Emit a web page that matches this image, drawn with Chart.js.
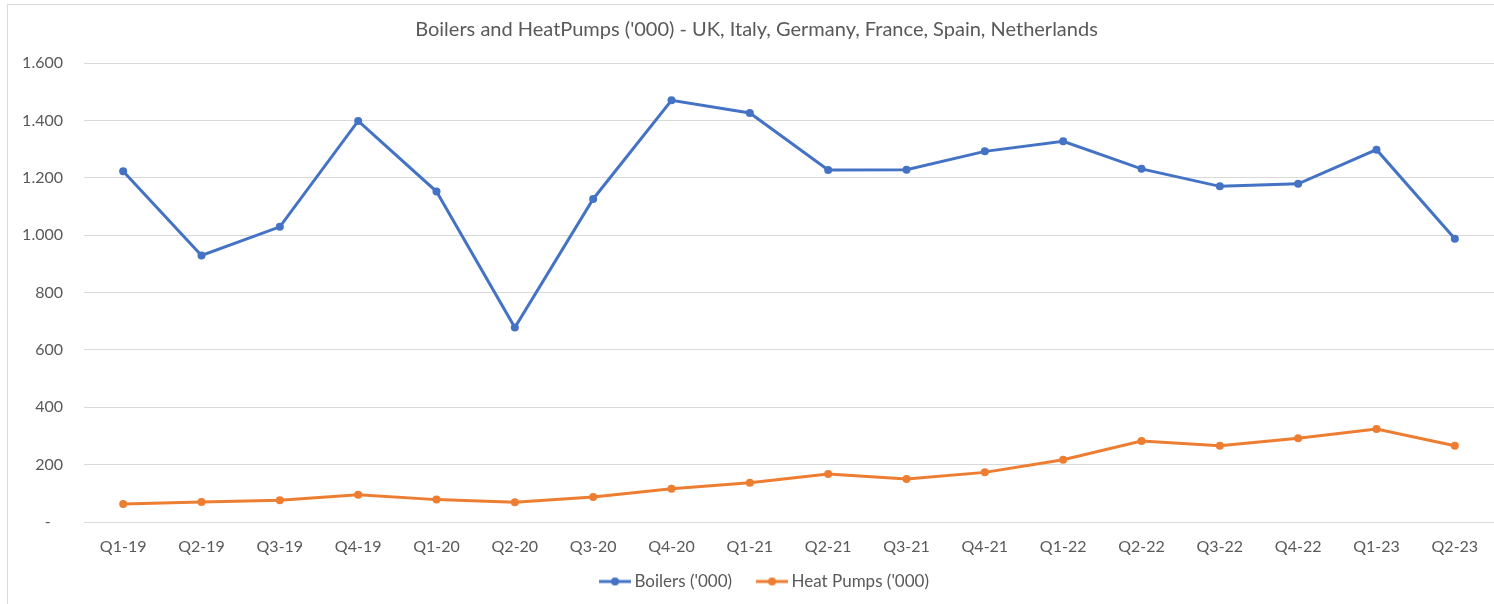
<!DOCTYPE html>
<html>
<head>
<meta charset="utf-8">
<script src="https://cdn.jsdelivr.net/npm/chart.js@4.4.0/dist/chart.umd.min.js"></script>
<style>
  html, body { margin: 0; padding: 0; background: #fff; overflow: hidden; }
  #wrap { position: relative; width: 1494px; height: 604px; overflow: hidden; }
  #c { display: block; }
</style>
</head>
<body>
<div id="wrap"><canvas id="c" width="1520" height="604" style="width:1520px;height:604px"></canvas></div>
<script>
// Data
const quarters = ['Q1-19', 'Q2-19', 'Q3-19', 'Q4-19', 'Q1-20', 'Q2-20', 'Q3-20', 'Q4-20', 'Q1-21',
  'Q2-21', 'Q3-21', 'Q4-21', 'Q1-22', 'Q2-22', 'Q3-22', 'Q4-22', 'Q1-23', 'Q2-23'];
const boilers = [1223, 929, 1029, 1398, 1152, 678, 1126, 1470, 1426,
  1227, 1228, 1292, 1327, 1231, 1170, 1179, 1298, 987];
const heatPumps = [63, 70, 76, 95, 78, 69, 87, 116, 137,
  167, 150, 173, 217, 282, 266, 292, 324, 266];
const yMin = 0, yMax = 1600, yStep = 200;

const FONT = 'Lato, "Open Sans", sans-serif';
const TEXT = '#595959';
const GRID = '#d9d9d9';
const BLUE = '#4472C4';
const ORANGE = '#ED7D31';

// legend marker: short line with a dot, drawn in the right part of a wider image
// so the gap before the next item is larger than the gap before its own text
function legendMarker(color) {
  const m = document.createElement('canvas');
  m.width = 52; m.height = 10;
  const g = m.getContext('2d');
  g.strokeStyle = color; g.lineWidth = 3;
  g.beginPath(); g.moveTo(20, 5); g.lineTo(52, 5); g.stroke();
  g.fillStyle = color;
  g.beginPath(); g.arc(36, 5, 4, 0, Math.PI * 2); g.fill();
  return m;
}
const markers = [legendMarker(BLUE), legendMarker(ORANGE)];

// white background and the light frame on the left/top
const frame = {
  id: 'frame',
  beforeDraw(chart) {
    const ctx = chart.ctx;
    ctx.save();
    ctx.fillStyle = '#fff';
    ctx.fillRect(0, 0, chart.width, chart.height);
    ctx.strokeStyle = GRID;
    ctx.lineWidth = 1;
    ctx.beginPath();
    ctx.moveTo(7.5, chart.height);
    ctx.lineTo(7.5, 4.5);
    ctx.lineTo(chart.width, 4.5);
    ctx.stroke();
    ctx.restore();
  }
};

function fmt(v) {
  if (v === 0) return '-   ';
  return String(v).replace(/\B(?=(\d{3})+(?!\d))/g, '.');
}

new Chart(document.getElementById('c'), {
  type: 'line',
  data: {
    labels: quarters,
    datasets: [
      {
        label: "Boilers ('000)",
        data: boilers,
        borderColor: BLUE,
        backgroundColor: BLUE,
        borderWidth: 3,
        pointRadius: 4,
        pointBorderWidth: 0,
        tension: 0
      },
      {
        label: "Heat Pumps ('000)",
        data: heatPumps,
        borderColor: ORANGE,
        backgroundColor: ORANGE,
        borderWidth: 3,
        pointRadius: 4,
        pointBorderWidth: 0,
        tension: 0
      }
    ]
  },
  options: {
    responsive: false,
    animation: false,
    devicePixelRatio: 1,
    layout: { padding: { left: 0, right: 7, top: 0, bottom: 4 } },
    plugins: {
      title: {
        display: true,
        text: "Boilers and HeatPumps ('000) - UK, Italy, Germany, France, Spain, Netherlands",
        color: TEXT,
        font: { family: FONT, size: 20, weight: 'normal' },
        padding: { top: 18, bottom: 21 }
      },
      legend: {
        position: 'bottom',
        labels: {
          color: TEXT,
          font: { family: FONT, size: 17 },
          usePointStyle: true,
          pointStyleWidth: 42,
          padding: 9,
          generateLabels(chart) {
            return chart.data.datasets.map((ds, i) => ({
              text: ds.label,
              fontColor: TEXT,
              pointStyle: markers[i],
              datasetIndex: i,
              hidden: false,
              lineWidth: 0
            }));
          }
        }
      },
      tooltip: { enabled: false }
    },
    scales: {
      x: {
        offset: true,
        grid: { display: false, drawTicks: false },
        border: { display: false },
        ticks: { color: TEXT, font: { family: FONT, size: 16 }, padding: 15, maxRotation: 0, autoSkip: false },
        afterFit(s) { s.height = 42; }
      },
      y: {
        min: yMin,
        max: yMax,
        grid: { color: GRID, lineWidth: 1, drawTicks: false },
        border: { display: false },
        ticks: { stepSize: yStep, color: TEXT, font: { family: FONT, size: 16 }, padding: 21, callback: fmt },
        afterFit(s) { s.width = 84; }
      },
      yRight: {
        position: 'right',
        display: true,
        grid: { display: false, drawTicks: false },
        border: { display: false },
        ticks: { display: false },
        afterFit(s) { s.width = 19; }
      }
    }
  },
  plugins: [frame]
});
</script>
</body>
</html>
